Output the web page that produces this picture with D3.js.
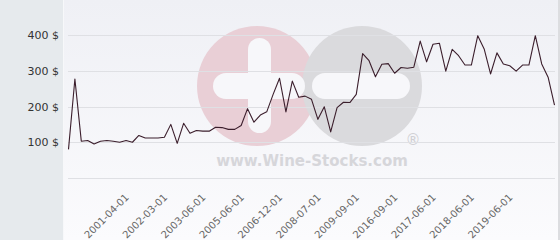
<!doctype html>
<html>
<head>
<meta charset="UTF-8">
<title>price chart</title>
<script src="https://d3js.org/d3.v7.min.js"></script>
<style>
    body { margin: 0; background: #fff; }
    * { font-family: "DejaVu Sans", Verdana, sans-serif; }
</style>
</head>
<body>
<script>
// price per point (category axis, 77 points)
var prices = [80, 277, 103, 105, 95, 103, 105, 103, 100, 105,
    100, 119, 112, 112, 112, 114, 150, 97, 153, 125,
    133, 131, 131, 142, 141, 136, 136, 147, 194, 156,
    176, 185, 234, 279, 185, 271, 226, 229, 220, 164,
    199, 129, 197, 212, 211, 234, 348, 328, 283, 318,
    320, 293, 309, 307, 310, 383, 325, 374, 377, 299,
    360, 342, 316, 316, 398, 361, 291, 350, 319, 314,
    299, 316, 316, 398, 319, 282, 204];

// which points carry a date label, and the labels
var tickIdx = [9, 15, 21, 27, 33, 39, 45, 51, 57, 63, 69];
var tickLabels = ['2001-04-01', '2002-03-01', '2003-06-01', '2005-06-01', '2006-12-01',
    '2008-07-01', '2009-09-01', '2016-09-01', '2017-06-01', '2018-06-01', '2019-06-01'];

var yGrid = [0, 100, 200, 300, 400];
var yLabelled = [100, 200, 300, 400];

var W = 560, H = 240;

var svg = d3.select('body').append('svg')
    .attr('width', W)
    .attr('height', H);

var defs = svg.append('defs');
var grad = defs.append('linearGradient')
    .attr('id', 'plotBg')
    .attr('x1', 0).attr('y1', 0).attr('x2', 0).attr('y2', 1);
grad.append('stop').attr('offset', '0%').attr('stop-color', '#eff0f5');
grad.append('stop').attr('offset', '100%').attr('stop-color', '#fbfbfd');

// left panel + plot area
svg.append('rect').attr('x', 0).attr('y', 0).attr('width', 63).attr('height', H).attr('fill', '#e6eaed');
svg.append('rect').attr('x', 63).attr('y', 0).attr('width', 495).attr('height', H).attr('fill', 'url(#plotBg)');
svg.append('line').attr('x1', 63.5).attr('x2', 63.5).attr('y1', 0).attr('y2', H).attr('stroke', '#f7f8fa');
svg.append('rect').attr('x', 558).attr('y', 0).attr('width', 2).attr('height', H).attr('fill', '#dcdde0');

var x = d3.scalePoint()
    .domain(d3.range(prices.length))
    .range([68.5, 554.5]);

var y = d3.scaleLinear()
    .domain([0, 400])
    .range([178, 35]);

// watermark
var wm = svg.append('g').attr('class', 'watermark');
wm.append('circle').attr('cx', 257).attr('cy', 86).attr('r', 60).attr('fill', '#e9cfd6');
wm.append('circle').attr('cx', 362).attr('cy', 86).attr('r', 60).attr('fill', '#dadadd');
wm.append('rect').attr('x', 213).attr('y', 73).attr('width', 92).attr('height', 26).attr('rx', 13).attr('fill', '#f7f7fa');
wm.append('rect').attr('x', 248).attr('y', 38).attr('width', 23).attr('height', 95).attr('rx', 11.5).attr('fill', '#f7f7fa');
wm.append('rect').attr('x', 312).attr('y', 73).attr('width', 98).attr('height', 26).attr('rx', 13).attr('fill', '#f7f7fa');
wm.append('text').attr('x', 312).attr('y', 166).attr('text-anchor', 'middle')
    .attr('font-family', 'Arial, "Liberation Sans", sans-serif')
    .attr('font-weight', 'bold').attr('font-size', 15).attr('fill', '#d6d6da')
    .text('www.Wine-Stocks.com');
wm.append('text').attr('x', 413).attr('y', 145).attr('text-anchor', 'middle')
    .attr('font-family', 'Arial, "Liberation Sans", sans-serif')
    .attr('font-size', 15).attr('fill', '#d0d0d4')
    .text('®');

// grid lines
svg.append('g').selectAll('line')
    .data(yGrid)
    .enter().append('line')
    .attr('x1', 68).attr('x2', 555)
    .attr('y1', function(d) { return Math.round(y(d)) + 0.5; })
    .attr('y2', function(d) { return Math.round(y(d)) + 0.5; })
    .attr('stroke', '#dfe0e4');

// y axis labels
var yAxis = d3.axisLeft(y)
    .tickValues(yLabelled)
    .tickSize(0)
    .tickPadding(0)
    .tickFormat(function(d) { return d + ' $'; });
var gy = svg.append('g').attr('transform', 'translate(59,0)').call(yAxis);
gy.select('.domain').remove();
gy.selectAll('text')
    .attr('font-size', 11)
    .attr('fill', '#333')
    .attr('font-family', '"DejaVu Sans", Verdana, sans-serif');

// x axis labels (rotated)
var xAxis = d3.axisBottom(x)
    .tickValues(tickIdx)
    .tickSize(0)
    .tickFormat(function(d) { return tickLabels[tickIdx.indexOf(d)]; });
var gx = svg.append('g').attr('transform', 'translate(0,190)').call(xAxis);
gx.select('.domain').remove();
gx.selectAll('text')
    .attr('font-size', 10)
    .attr('fill', '#666')
    .attr('font-family', '"DejaVu Sans", Verdana, sans-serif')
    .attr('text-anchor', 'end')
    .attr('dy', 0)
    .attr('y', 0)
    .attr('transform', 'translate(3,8) rotate(-45)');

// price line
var line = d3.line()
    .x(function(d, i) { return x(i); })
    .y(function(d) { return y(d); });

svg.append('path')
    .datum(prices)
    .attr('d', line)
    .attr('fill', 'none')
    .attr('stroke', '#3b1e2c')
    .attr('stroke-width', 1.1)
    .attr('stroke-linejoin', 'round');
</script>
</body>
</html>
